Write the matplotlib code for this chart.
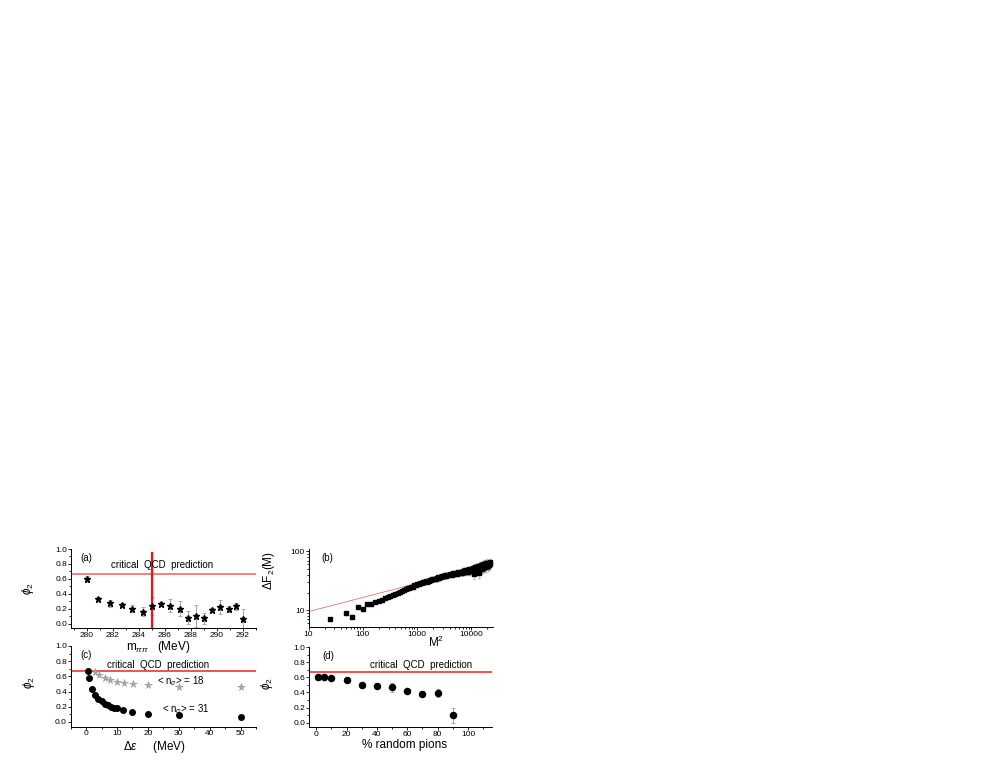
import numpy as np
import matplotlib
matplotlib.use('Agg')
import matplotlib.pyplot as plt
from matplotlib.ticker import MultipleLocator, NullFormatter

plt.rcParams['font.family'] = ['Liberation Sans', 'DejaVu Sans']
plt.rcParams['mathtext.fontset'] = 'custom'
plt.rcParams['mathtext.rm'] = 'Liberation Sans'
plt.rcParams['mathtext.it'] = 'Liberation Sans:italic'

# (a) phi2 vs m_pipi
a_m = [280.0, 280.9, 281.8, 282.7, 283.5, 284.3, 285.05, 285.7, 286.4, 287.2,
       287.8, 288.4, 289.0, 289.6, 290.2, 290.9, 291.5, 292.0]
a_phi = [0.60, 0.33, 0.27, 0.25, 0.20, 0.16, 0.24, 0.26, 0.24, 0.20,
         0.08, 0.10, 0.07, 0.18, 0.22, 0.19, 0.23, 0.06]
a_err = [0.04, 0.02, 0.05, 0.02, 0.05, 0.06, 0.12, 0.03, 0.09, 0.10,
         0.09, 0.15, 0.07, 0.03, 0.09, 0.04, 0.05, 0.13]
a_vline = 285.0

# (b) Delta F2 vs M^2
b_M = [5, 7, 8, 9, 10, 11, 12,
       13, 14, 15, 16, 17, 18, 19, 20, 21, 22, 23, 24, 25, 26, 27, 28, 29, 30,
       31, 32, 33, 34, 35, 36, 37, 38, 39, 40, 41, 42, 43, 44, 45, 46, 47, 48,
       49, 50, 51, 52, 53, 54, 55, 56, 57, 58, 59, 60,
       62, 64, 66, 68, 70, 72, 74, 76, 78, 80, 82, 84, 86, 88, 90, 92, 94, 96,
       98, 100, 102, 104, 106, 108, 110, 112, 114, 116, 118, 120, 122, 124,
       126, 128, 130, 132, 134, 136, 138, 140, 142, 144, 146, 148, 150]
b_F2 = [7.0, 9.1, 7.8, 11.2, 10.4, 13.0, 12.6,
        13.6, 14.4, 15.0, 15.9, 16.5, 17.4, 18.0, 19.1, 19.6, 20.8, 21.2, 22.1,
        22.6, 23.6, 24.0, 24.9, 25.3, 26.4,
        26.5, 27.6, 27.7, 28.6, 28.7, 29.9, 29.8, 31.0, 30.6, 31.9, 31.8, 32.8,
        32.3, 33.8, 33.4, 34.6, 34.0, 35.6, 35.2, 36.8, 35.9, 37.4, 36.8, 38.2,
        37.6, 39.0, 38.0, 39.8, 38.6, 40.2,
        39.4, 41.6, 40.0, 42.8, 41.0, 43.5, 41.8, 44.8, 42.6, 45.5, 43.4, 46.8,
        44.0, 47.5, 45.2, 48.6, 44.6, 49.8, 46.0, 50.5,
        47.0, 52.0, 41.0, 53.5, 47.5, 55.0, 49.0, 56.0, 43.0, 57.0, 50.0, 58.5,
        51.0, 60.0, 53.0, 61.0, 54.0, 63.0, 55.0, 64.0, 56.5, 62.0, 58.0, 65.0, 60.0]
b_err = [0.3, 0.3, 0.3, 0.3, 0.3, 0.4, 0.4,
         0.4, 0.4, 0.4, 0.4, 0.4, 0.5, 0.5, 0.5, 0.5, 0.5, 0.6, 0.6, 0.6, 0.6,
         0.7, 0.7, 0.7, 0.8,
         0.8, 0.9, 0.9, 1.0, 1.0, 1.1, 1.1, 1.2, 1.2, 1.3, 1.3, 1.4, 1.4, 1.5,
         1.5, 1.6, 1.6, 1.7, 1.8, 1.9, 2.0, 2.1, 2.2, 2.3, 2.3, 2.4, 2.4, 2.5,
         2.5, 2.6,
         2.8, 3.0, 3.2, 3.4, 3.5, 3.7, 3.9, 4.0, 4.2, 4.4, 4.5, 4.7, 4.8, 5.0,
         5.1, 5.3, 5.4, 5.6, 5.7, 5.9,
         6.0, 6.3, 6.5, 6.8, 7.0, 7.2, 7.5, 7.7, 8.0, 8.2, 8.4, 8.6, 8.8, 9.0,
         9.2, 9.4, 9.6, 9.8, 10.0, 10.0, 10.0, 10.0, 10.0, 10.0, 10.0]
b_fit_x = [10, 25000]
b_fit_y = [9.5, 62.0]

# (c) phi2 vs Delta epsilon
c_de_31 = [0.5, 1, 2, 3, 4, 5, 6, 7, 8, 9, 10, 12, 15, 20, 30, 50]
c_phi_31 = [0.67, 0.58, 0.43, 0.35, 0.30, 0.27, 0.24, 0.22, 0.20, 0.19,
            0.18, 0.16, 0.13, 0.11, 0.09, 0.07]
c_de_18 = [3, 4.3, 6.2, 7.8, 10, 12.3, 15.2, 20, 30, 50]
c_phi_18 = [0.66, 0.62, 0.58, 0.55, 0.52, 0.51, 0.50, 0.48, 0.46, 0.46]

# (d) phi2 vs % random pions
d_pct = [1, 5, 10, 20, 30, 40, 50, 60, 70, 80, 90]
d_phi = [0.60, 0.61, 0.59, 0.56, 0.50, 0.49, 0.47, 0.42, 0.38, 0.39, 0.10]
d_err = [0.03, 0.03, 0.02, 0.02, 0.02, 0.04, 0.06, 0.02, 0.04, 0.05, 0.10]

qcd = 0.667

W, H = 981, 763
fig = plt.figure(figsize=(W / 100, H / 100), dpi=100)


def box(l, t, r, b):
    return [l / W, 1 - b / H, (r - l) / W, (b - t) / H]


ax_a = fig.add_axes(box(71, 549, 256, 628))
ax_b = fig.add_axes(box(308.5, 549, 492.7, 627))
ax_c = fig.add_axes(box(70.7, 646, 256, 726.5))
ax_d = fig.add_axes(box(309.3, 647, 492.3, 727.3))

tfs = 6
lfs = 8.5
nfs = 7
for ax in [ax_a, ax_b, ax_c, ax_d]:
    ax.patch.set_visible(False)
    ax.spines['top'].set_visible(False)
    ax.spines['right'].set_visible(False)
    for s in ['left', 'bottom']:
        ax.spines[s].set_linewidth(0.7)
    ax.tick_params(which='both', direction='out', labelsize=tfs, width=0.6, pad=0.5)
    ax.tick_params(which='major', length=2.2)
    ax.tick_params(which='minor', length=1.3)

ebkw = dict(ecolor='#a0a0a0', elinewidth=0.7, capsize=1.2, capthick=0.6, ls='none')

# ---- (a)
ax_a.errorbar(a_m, a_phi, yerr=a_err, fmt='*', color='black', ms=5, **ebkw)
ax_a.axhline(qcd, color='#f07878', lw=1.3)
ax_a.plot([a_vline, a_vline], [-0.06, 0.95], color='#ee1111', lw=1.6, clip_on=False)
ax_a.set_xlim(278.8, 293)
ax_a.set_ylim(-0.06, 1.0)
ax_a.xaxis.set_major_locator(MultipleLocator(2))
ax_a.xaxis.set_minor_locator(MultipleLocator(1))
ax_a.yaxis.set_major_locator(MultipleLocator(0.2))
ax_a.yaxis.set_minor_locator(MultipleLocator(0.1))
ax_a.yaxis.set_major_formatter(plt.FormatStrFormatter('%.1f'))
ax_a.text(0.49, 0.735, 'critical  QCD  prediction', transform=ax_a.transAxes,
          ha='center', va='bottom', fontsize=nfs)
ax_a.text(0.05, 0.85, '(a)', transform=ax_a.transAxes, fontsize=nfs)
ax_a.set_ylabel(r'$\phi_2$', fontsize=lfs)
ax_a.yaxis.set_label_coords(-0.19, 0.5)
ax_a.set_xlabel(r'm$_{\pi\pi}$   (MeV)', fontsize=lfs)
ax_a.xaxis.set_label_coords(0.47, -0.14)

# ---- (b)
ax_b.set_xscale('log')
ax_b.set_yscale('log')
b_M2 = np.array(b_M) ** 2
ax_b.plot(b_fit_x, b_fit_y, color='#f4a0a0', lw=0.6)
ax_b.errorbar(b_M2, b_F2, yerr=b_err, fmt='s', color='black', ms=2.8,
              ecolor='#b0b0b0', elinewidth=0.5, capsize=0.8, ls='none')
ax_b.plot(b_fit_x, b_fit_y, color='#d04040', lw=0.4, alpha=0.5)
ax_b.set_xlim(10, 25000)
ax_b.set_ylim(5.2, 110)
ax_b.xaxis.set_minor_formatter(NullFormatter())
ax_b.yaxis.set_minor_formatter(NullFormatter())
ax_b.set_xticks([10, 100, 1000, 10000])
ax_b.set_xticklabels(['10', '100', '1000', '10000'])
ax_b.set_yticks([10, 100])
ax_b.set_yticklabels(['10', '100'])
ax_b.text(0.07, 0.85, '(b)', transform=ax_b.transAxes, fontsize=nfs)
ax_b.set_ylabel(r'$\Delta$F$_2$(M)', fontsize=lfs)
ax_b.yaxis.set_label_coords(-0.17, 0.72)
ax_b.text(0.695, -0.10, r'M$^2$', transform=ax_b.transAxes, fontsize=lfs,
          ha='center', va='top')

# ---- (c)
ax_c.axhline(qcd, color='#ee2222', lw=1.1)
ax_c.plot(c_de_18, c_phi_18, '*', color='#a8a8a8', mec='#909090', mew=0.4, ms=5.5, ls='none')
ax_c.plot(c_de_31, c_phi_31, 'o', color='black', ms=4, ls='none')
ax_c.set_xlim(-5, 55)
ax_c.set_ylim(-0.06, 1.0)
ax_c.xaxis.set_major_locator(MultipleLocator(10))
ax_c.xaxis.set_minor_locator(MultipleLocator(5))
ax_c.yaxis.set_major_locator(MultipleLocator(0.2))
ax_c.yaxis.set_minor_locator(MultipleLocator(0.1))
ax_c.yaxis.set_major_formatter(plt.FormatStrFormatter('%.1f'))
ax_c.text(0.47, 0.705, 'critical  QCD  prediction', transform=ax_c.transAxes,
          ha='center', va='bottom', fontsize=nfs)
ax_c.text(0.05, 0.85, '(c)', transform=ax_c.transAxes, fontsize=nfs)
ax_c.text(23.0, 0.54, r'< n$_\sigma$> = 18', fontsize=nfs, va='center')
ax_c.text(24.7, 0.17, r'< n$_\sigma$> = 31', fontsize=nfs, va='center')
ax_c.set_ylabel(r'$\phi_2$', fontsize=lfs)
ax_c.yaxis.set_label_coords(-0.18, 0.55)
ax_c.set_xlabel(r'$\Delta\varepsilon$     (MeV)', fontsize=lfs)
ax_c.xaxis.set_label_coords(0.45, -0.15)

# ---- (d)
ax_d.axhline(qcd, color='#ee2222', lw=1.1)
ax_d.errorbar(d_pct, d_phi, yerr=d_err, fmt='o', color='black', ms=4.4, **ebkw)
ax_d.set_xlim(-4.5, 116)
ax_d.set_ylim(-0.06, 1.0)
ax_d.xaxis.set_major_locator(MultipleLocator(20))
ax_d.xaxis.set_minor_locator(MultipleLocator(10))
ax_d.yaxis.set_major_locator(MultipleLocator(0.2))
ax_d.yaxis.set_minor_locator(MultipleLocator(0.1))
ax_d.yaxis.set_major_formatter(plt.FormatStrFormatter('%.1f'))
ax_d.text(0.61, 0.715, 'critical  QCD  prediction', transform=ax_d.transAxes,
          ha='center', va='bottom', fontsize=nfs)
ax_d.text(0.07, 0.85, '(d)', transform=ax_d.transAxes, fontsize=nfs)
ax_d.set_ylabel(r'$\phi_2$', fontsize=lfs)
ax_d.yaxis.set_label_coords(-0.19, 0.55)
ax_d.set_xlabel('% random pions', fontsize=lfs)
ax_d.xaxis.set_label_coords(0.52, -0.15)

fig.savefig('out.png', dpi=100)
